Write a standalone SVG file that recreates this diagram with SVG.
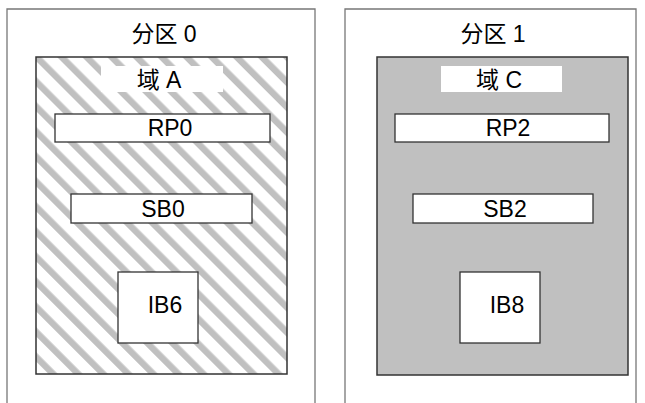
<svg xmlns="http://www.w3.org/2000/svg" width="645" height="403" viewBox="0 0 645 403">
<defs>
<pattern id="hatch" patternUnits="userSpaceOnUse" width="17.7" height="17.7" patternTransform="rotate(-45)">
<rect width="17.7" height="17.7" fill="#ffffff"/>
<rect width="6.5" height="17.7" fill="#c0c0c0"/>
</pattern>
<style>
.outer{fill:#ffffff;stroke:#777777;stroke-width:1.3}
.domain{stroke:#333333;stroke-width:1.5}
.box{fill:#ffffff;stroke:#333333;stroke-width:1.3}
.lbl{fill:#ffffff;stroke:none}
text{font-family:"Liberation Sans","Noto Sans CJK SC",sans-serif;font-size:23px;fill:#000000;text-anchor:middle}
</style>
</defs>
<g id="partition0">
<path class="outer" d="M7,410 V9 H315 V410"/>
<text x="164" y="42">分区 0</text>
</g>
<g id="partition1">
<path class="outer" d="M345,410 V9 H636 V410"/>
<text x="493" y="42">分区 1</text>
</g>
<g id="domainA">
<rect class="domain" x="36" y="57" width="251" height="317" fill="url(#hatch)"/>
<rect class="lbl" x="101" y="66" width="122" height="26"/>
<text x="159" y="88">域 A</text>
</g>
<g id="domainC">
<rect class="domain" x="377" y="57" width="251" height="318" fill="#c0c0c0"/>
<rect class="lbl" x="441" y="66" width="121" height="26"/>
<text x="499" y="88">域 C</text>
</g>
<g id="RP0">
<rect class="box" x="55" y="114" width="215" height="28"/>
<text x="170" y="136">RP0</text>
</g>
<g id="SB0">
<rect class="box" x="71" y="194" width="181" height="29"/>
<text x="163" y="217">SB0</text>
</g>
<g id="IB6">
<rect class="box" x="118" y="272" width="80" height="71"/>
<text x="165" y="313">IB6</text>
</g>
<g id="RP2">
<rect class="box" x="395" y="114" width="214" height="28"/>
<text x="508" y="136">RP2</text>
</g>
<g id="SB2">
<rect class="box" x="413" y="194" width="180" height="29"/>
<text x="505" y="217">SB2</text>
</g>
<g id="IB8">
<rect class="box" x="460" y="272" width="80" height="71"/>
<text x="507" y="313">IB8</text>
</g>
<g id="connectors"></g>
</svg>
